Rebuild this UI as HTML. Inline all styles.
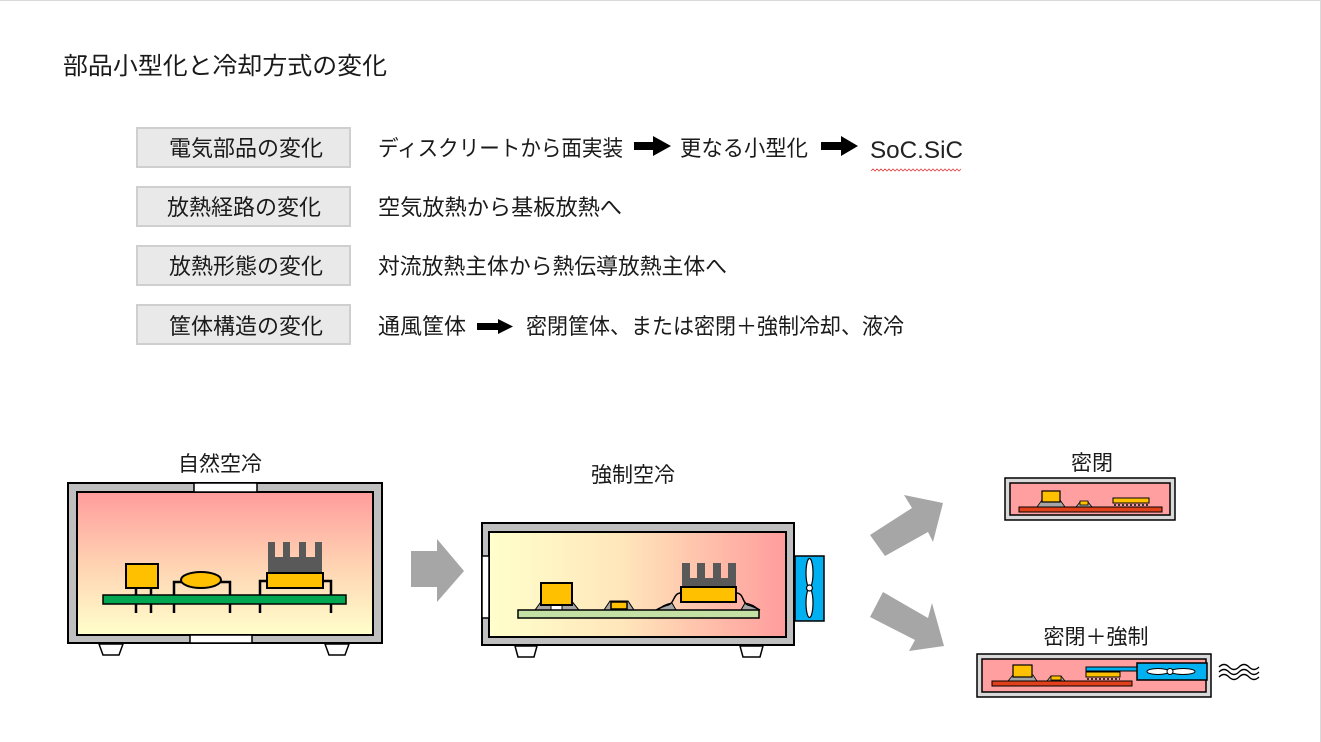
<!DOCTYPE html>
<html>
<head>
<meta charset="utf-8">
<style>
html,body{margin:0;padding:0;background:#fff;}
body{width:1321px;height:742px;overflow:hidden;}
svg{display:block;}
text{font-family:"Liberation Sans","Noto Sans CJK JP",sans-serif;fill:#1a1a1a;}
</style>
</head>
<body>
<svg width="1321" height="742" viewBox="0 0 1321 742" xmlns="http://www.w3.org/2000/svg">
<defs>
  <linearGradient id="gN" x1="0" y1="0" x2="0" y2="1">
    <stop offset="0" stop-color="#ff9c9c"/>
    <stop offset="0.5" stop-color="#ffd2b2"/>
    <stop offset="1" stop-color="#ffffcc"/>
  </linearGradient>
  <linearGradient id="gF" x1="0" y1="0" x2="1" y2="0">
    <stop offset="0" stop-color="#ffffcc"/>
    <stop offset="0.45" stop-color="#ffe6bb"/>
    <stop offset="1" stop-color="#ff9c9c"/>
  </linearGradient>
</defs>

<!-- slide edge -->
<line x1="0" y1="0.5" x2="1321" y2="0.5" stroke="#d9d9d9" stroke-width="1"/>
<line x1="1320.5" y1="0" x2="1320.5" y2="742" stroke="#d9d9d9" stroke-width="1"/>

<!-- Title -->
<text x="63" y="74" font-size="24" textLength="324" lengthAdjust="spacingAndGlyphs">部品小型化と冷却方式の変化</text>

<!-- Label boxes -->
<g fill="#e9e9e9" stroke="#cfcfcf" stroke-width="2">
  <rect x="137" y="128" width="213" height="39"/>
  <rect x="137" y="187" width="213" height="39"/>
  <rect x="137" y="246" width="213" height="39"/>
  <rect x="137" y="305" width="213" height="39"/>
</g>
<g font-size="22" text-anchor="middle">
  <text x="246" y="156">電気部品の変化</text>
  <text x="244" y="215">放熱経路の変化</text>
  <text x="246" y="274">放熱形態の変化</text>
  <text x="246" y="334">筐体構造の変化</text>
</g>

<!-- Row texts -->
<g font-size="22">
  <text x="378" y="156" textLength="245" lengthAdjust="spacingAndGlyphs">ディスクリートから面実装</text>
  <text x="680" y="156" textLength="128" lengthAdjust="spacingAndGlyphs">更なる小型化</text>
  <text x="378" y="215" textLength="244" lengthAdjust="spacingAndGlyphs">空気放熱から基板放熱へ</text>
  <text x="378" y="274" textLength="349" lengthAdjust="spacingAndGlyphs">対流放熱主体から熱伝導放熱主体へ</text>
  <text x="378" y="334" textLength="88" lengthAdjust="spacingAndGlyphs">通風筐体</text>
  <text x="526" y="334" textLength="378" lengthAdjust="spacingAndGlyphs">密閉筐体、または密閉＋強制冷却、液冷</text>
</g>
<text x="870" y="158" font-size="24" textLength="93" lengthAdjust="spacingAndGlyphs" style="font-family:'Liberation Sans','DejaVu Sans',sans-serif;fill:#222">SoC.SiC</text>
<path d="M871 171 l2 -2 l2 2 l2 -2 l2 2 l2 -2 l2 2 l2 -2 l2 2 l2 -2 l2 2 l2 -2 l2 2 l2 -2 l2 2 l2 -2 l2 2 l2 -2 l2 2 l2 -2 l2 2 l2 -2 l2 2 l2 -2 l2 2 l2 -2 l2 2 l2 -2 l2 2 l2 -2 l2 2 l2 -2 l2 2 l2 -2 l2 2 l2 -2 l2 2 l2 -2 l2 2 l2 -2 l2 2 l2 -2 l2 2 l2 -2 l2 2 l2 -2" fill="none" stroke="#e04040" stroke-width="0.8"/>

<!-- Black arrows -->
<g fill="#000">
  <polygon points="634,142 653,142 653,136 671,146 653,156 653,150 634,150"/>
  <polygon points="821,142 841,142 841,136 858,146 841,156 841,150 821,150"/>
  <polygon points="477,323 498,323 498,319 513,326.5 498,334 498,330 477,330"/>
</g>

<!-- ===== Natural air cooling ===== -->
<text x="220" y="471" font-size="21" text-anchor="middle">自然空冷</text>
<rect x="68" y="483" width="314" height="160" fill="#bfbfbf" stroke="#000" stroke-width="2"/>
<rect x="77" y="492" width="296" height="143" fill="url(#gN)" stroke="#000" stroke-width="2"/>
<rect x="194" y="483" width="63" height="9" fill="#fff" stroke="#000" stroke-width="1.5"/>
<rect x="190" y="635" width="62" height="8" fill="#fff" stroke="#000" stroke-width="1.5"/>
<path d="M99 644 L123 644 L119 655 L103 655 Z" fill="#fff" stroke="#000" stroke-width="1.5"/>
<path d="M325 644 L349 644 L345 655 L329 655 Z" fill="#fff" stroke="#000" stroke-width="1.5"/>
<!-- leads -->
<g stroke="#000" stroke-width="2.5" fill="none">
  <line x1="136" y1="588" x2="136" y2="613"/>
  <line x1="151" y1="588" x2="151" y2="613"/>
  <path d="M182 582 L174 582 L174 613"/>
  <path d="M220 582 L230 582 L230 613"/>
  <path d="M267 581 L260 581 L260 613"/>
  <path d="M323 581 L331 581 L331 613"/>
</g>
<rect x="103" y="595" width="243" height="9" fill="#00a650" stroke="#000" stroke-width="1.5"/>
<rect x="126" y="564" width="32" height="24" fill="#ffc000" stroke="#000" stroke-width="2"/>
<ellipse cx="201" cy="580" rx="20" ry="8" fill="#ffc000" stroke="#000" stroke-width="2"/>
<g fill="#595959">
  <rect x="268" y="557" width="54" height="16"/>
  <rect x="268" y="542" width="7" height="16"/>
  <rect x="283" y="542" width="7" height="16"/>
  <rect x="299" y="542" width="7" height="16"/>
  <rect x="315" y="542" width="7" height="16"/>
</g>
<rect x="267" y="573" width="56" height="15" fill="#ffc000" stroke="#000" stroke-width="2"/>

<!-- gray arrow right -->
<polygon points="411,551 437,551 437,539 464,571 437,602 437,587 411,587" fill="#a6a6a6"/>

<!-- ===== Forced air cooling ===== -->
<text x="633" y="482" font-size="21" text-anchor="middle">強制空冷</text>
<rect x="482" y="523" width="312" height="122" fill="#bfbfbf" stroke="#000" stroke-width="2"/>
<rect x="489" y="532" width="297" height="105" fill="url(#gF)" stroke="#000" stroke-width="2"/>
<rect x="482" y="556" width="7" height="62" fill="#fff" stroke="#000" stroke-width="1.5"/>
<path d="M515 646 L537 646 L534 657 L518 657 Z" fill="#fff" stroke="#000" stroke-width="1.5"/>
<path d="M740 646 L763 646 L760 657 L743 657 Z" fill="#fff" stroke="#000" stroke-width="1.5"/>
<!-- fan -->
<rect x="795" y="556" width="29" height="65" fill="#00b0f0" stroke="#000" stroke-width="1.5"/>
<ellipse cx="809.5" cy="573" rx="3.5" ry="14.5" fill="#fff" stroke="#000" stroke-width="1.2"/>
<ellipse cx="809.5" cy="603" rx="3.5" ry="14.5" fill="#fff" stroke="#000" stroke-width="1.2"/>
<circle cx="809.5" cy="588" r="3" fill="#fff" stroke="#000" stroke-width="1.2"/>
<!-- components -->
<g fill="#a6a6a6" stroke="#000" stroke-width="1">
  <path d="M535 610 L543 599 L551 599 L551 610 Z"/>
  <path d="M562 610 L562 599 L570 599 L579 610 Z"/>
  <path d="M604 610 L610 601 L628 601 L634 610 Z"/>
  <path d="M658 610 Q664 604 672 603 L676 610 Z"/>
  <path d="M741 610 L745 603 Q753 604 759 610 Z"/>
</g>
<rect x="551" y="605" width="11" height="5" fill="#fff" stroke="#000" stroke-width="1"/>
<rect x="541" y="583" width="31" height="22" fill="#ffc000" stroke="#000" stroke-width="2"/>
<rect x="611" y="602" width="16" height="7" fill="#ffc000" stroke="#000" stroke-width="1.5"/>
<g stroke="#000" stroke-width="1.5" fill="none">
  <path d="M681 593 C673 593 675 603 668 605 C663 606 660 608 656 610"/>
  <path d="M736 593 C744 593 742 603 748 605 C753 606 756 608 760 610"/>
</g>
<rect x="518" y="610" width="241" height="8" fill="#c5e0a5" stroke="#000" stroke-width="1.5"/>
<g fill="#595959">
  <rect x="682" y="578" width="54" height="10"/>
  <rect x="682" y="563" width="8" height="16"/>
  <rect x="697" y="563" width="8" height="16"/>
  <rect x="713" y="563" width="8" height="16"/>
  <rect x="728" y="563" width="8" height="16"/>
</g>
<rect x="681" y="587" width="55" height="15" fill="#ffc000" stroke="#000" stroke-width="2"/>

<!-- diagonal gray arrows -->
<polygon points="870,535 912,508 904,495 943,503 933,542 928,532 885,556" fill="#a6a6a6"/>
<polygon points="883,592 928,618 932,603 944,646 909,651 915,640 870,617" fill="#a6a6a6"/>

<!-- ===== Sealed ===== -->
<text x="1092" y="470" font-size="21" text-anchor="middle">密閉</text>
<rect x="1005" y="478" width="170" height="42" fill="#d9d9d9" stroke="#000" stroke-width="1.5"/>
<rect x="1010" y="483" width="160" height="32" fill="#ff9f9f" stroke="#000" stroke-width="1.5"/>
<g fill="#a6a6a6" stroke="#000" stroke-width="0.8">
  <path d="M1037 507 L1042 500 L1060 500 L1065 507 Z"/>
  <path d="M1076 507 L1080 502 L1088 502 L1092 507 Z"/>
</g>
<rect x="1042" y="491" width="18" height="11" fill="#ffc000" stroke="#000" stroke-width="1.2"/>
<rect x="1080" y="501" width="8" height="4" fill="#ffc000" stroke="#000" stroke-width="0.8"/>
<rect x="1113" y="498" width="36" height="5" fill="#ffc000" stroke="#000" stroke-width="1"/>
<line x1="1114" y1="505" x2="1149" y2="505" stroke="#333" stroke-width="2" stroke-dasharray="2 2"/>
<rect x="1019" y="507" width="143" height="5" fill="#e0401a" stroke="#000" stroke-width="1"/>

<!-- ===== Sealed + forced ===== -->
<text x="1096" y="644" font-size="21" text-anchor="middle">密閉＋強制</text>
<rect x="977" y="654" width="234" height="43" fill="#d9d9d9" stroke="#000" stroke-width="1.5"/>
<rect x="982" y="659" width="224" height="33" fill="#ff9f9f" stroke="#000" stroke-width="1.5"/>
<g fill="#a6a6a6" stroke="#000" stroke-width="0.8">
  <path d="M1008 681 L1013 675 L1033 675 L1037 681 Z"/>
  <path d="M1047 681 L1051 676 L1061 676 L1065 681 Z"/>
</g>
<rect x="1013" y="665" width="19" height="12" fill="#ffc000" stroke="#000" stroke-width="1.2"/>
<rect x="1051" y="676" width="10" height="4" fill="#ffc000" stroke="#000" stroke-width="0.8"/>
<rect x="1086" y="667" width="52" height="4" fill="#00b0f0" stroke="#000" stroke-width="1"/>
<rect x="1086" y="672" width="34" height="5" fill="#ffc000" stroke="#000" stroke-width="1"/>
<line x1="1087" y1="679" x2="1120" y2="679" stroke="#333" stroke-width="2" stroke-dasharray="2 2"/>
<rect x="992" y="681" width="140" height="5" fill="#e0401a" stroke="#000" stroke-width="1"/>
<rect x="1137" y="663" width="70" height="17" fill="#00b0f0" stroke="#000" stroke-width="1.5"/>
<ellipse cx="1158" cy="671.5" rx="11" ry="3" fill="#fff" stroke="#000" stroke-width="1"/>
<ellipse cx="1183" cy="671.5" rx="12" ry="3" fill="#fff" stroke="#000" stroke-width="1"/>
<circle cx="1170" cy="671.5" r="3" fill="#fff" stroke="#000" stroke-width="1"/>
<g fill="none" stroke="#000" stroke-width="1.3">
  <path d="M1219 667 q5 -5 10 0 t10 0 t10 0 t10 0"/>
  <path d="M1219 672 q5 -5 10 0 t10 0 t10 0 t10 0"/>
  <path d="M1219 677 q5 -5 10 0 t10 0 t10 0 t10 0"/>
</g>
</svg>
</body>
</html>
